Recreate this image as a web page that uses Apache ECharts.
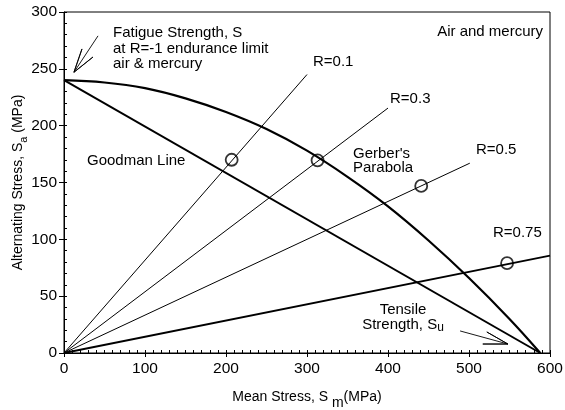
<!DOCTYPE html>
<html><head><meta charset="utf-8">
<script src="https://cdn.jsdelivr.net/npm/echarts@6/dist/echarts.min.js"></script>
<style>html,body{margin:0;padding:0;background:#fff}#c{width:565px;height:410px}</style>
</head><body><div id="c"></div>
<script>
// ---- data ----
const goodman = [[0, 240], [588, 0]];
const gerber = [[0,240],[50,238],[100,233],[150,224],[200,212],[250,197],[300,178],[350,155],[400,129],[450,99],[500,66],[550,30],[588,0]];
const rLine01 = [[0,0],[300,245]];
const rLine03 = [[0,0],[400,215.5]];
const rLine05 = [[0,0],[501,167]];
const rLine075 = [[0,0],[600,85.7]];
const points = [[207,170],[313,169.5],[441,147],[547,79]];
const fatigueArrow = [[42,279],[12.3,247],[22.2,267.5],[12.3,247],[35.8,260.4],[12.3,247]];
const tensileArrow = [[489,19.4],[548,7.9],[522,18.5],[548,7.9],[517,7.9],[548,7.9]];
const labels = [
  {t:'Fatigue Strength, S\nat R=-1 endurance limit\nair & mercury', p:[60.5,267.7], a:'left', lh:15.5},
  {t:'Air and mercury', p:[591.4,282.4], a:'right'},
  {t:'R=0.1', p:[307.4,256], a:'left'},
  {t:'R=0.3', p:[402.5,223.5], a:'left'},
  {t:'R=0.5', p:[508.6,178.6], a:'left'},
  {t:'R=0.75', p:[529.6,105.6], a:'left'},
  {t:'Goodman Line', p:[28.4,169], a:'left'},
  {t:"Gerber's\nParabola", p:[356.8,169], a:'left', lh:14},
  {t:'Tensile\n{n|Strength, S}{sub|u}', p:[418.5,31.2], a:'center', lh:15}
];
const xMin = 0, xMax = 600, xStep = 100;
const yMin = 0, yMax = 300, yStep = 50;

const FONT = "'Liberation Sans', Arial, Helvetica, sans-serif";
const chart = echarts.init(document.getElementById('c'), null, {renderer:'canvas'});
const black = '#000';
function line(data, w) {
  return {type:'line', data, symbol:'none', silent:true, animation:false,
    lineStyle:{color:black, width:w}, z:3};
}
const option = {
  animation:false,
  backgroundColor:'#fff',
  grid:{left:64, right:15, top:12, bottom:57, containLabel:false, outerBoundsMode:'none',
    show:true, borderColor:black, borderWidth:1, backgroundColor:'transparent'},
  xAxis:[{
    type:'value', min:xMin, max:xMax, interval:xStep,
    axisLine:{show:true, onZero:false, lineStyle:{color:black, width:1}},
    axisTick:{show:true, length:4, lineStyle:{color:black}},
    axisLabel:{color:black, fontSize:15.5, fontFamily:FONT, margin:8},
    splitLine:{show:false},
    name:'{n|Mean Stress, S }{sub|m}{n|(MPa)}', nameLocation:'middle', nameGap:37, nameMoveOverlap:false,
    nameTextStyle:{rich:{n:{fontSize:14, fontFamily:FONT, color:black, verticalAlign:'top', lineHeight:20}, sub:{fontSize:14, fontFamily:FONT, color:black, padding:[6,0,0,0], lineHeight:20}}}
  },{
    type:'value', min:xMin, max:xMax, interval:10, position:'bottom',
    axisLine:{show:false}, axisLabel:{show:false}, splitLine:{show:false},
    axisTick:{show:true, inside:true, length:3, lineStyle:{color:black}}
  }],
  yAxis:[{
    type:'value', min:yMin, max:yMax, interval:yStep,
    axisLine:{show:true, onZero:false, lineStyle:{color:black, width:1}},
    axisTick:{show:true, length:5, lineStyle:{color:black}},
    axisLabel:{color:black, fontSize:15.5, fontFamily:FONT, margin:7},
    splitLine:{show:false},
    name:'{n|Alternating Stress, S}{sub|a}{n| (MPa)}', nameLocation:'middle', nameGap:33, nameRotate:90, nameMoveOverlap:false,
    nameTextStyle:{rich:{n:{fontSize:14, fontFamily:FONT, color:black, verticalAlign:'top', lineHeight:20}, sub:{fontSize:11, fontFamily:FONT, color:black, padding:[6,0,0,0], lineHeight:20}}}
  },{
    type:'value', min:yMin, max:yMax, interval:10, position:'left',
    axisLine:{show:false}, axisLabel:{show:false}, splitLine:{show:false},
    axisTick:{show:true, inside:true, length:3, lineStyle:{color:black}}
  }],
  series:[
    line(goodman, 2),
    {...line(gerber, 2.2), smooth:0.4},
    line(rLine01, 1),
    line(rLine03, 1),
    line(rLine05, 1),
    line(rLine075, 1.8),
    line(fatigueArrow, 0.9),
    line(tensileArrow, 0.9),
    {type:'scatter', data:points, symbol:'circle', symbolSize:12, silent:true, z:5,
      itemStyle:{color:'transparent', borderColor:black, borderWidth:1.8}}
  ]
};
chart.setOption(option);

const graphics = labels.map(l => {
  const px = chart.convertToPixel({gridIndex:0}, l.p);
  return {type:'text', x:px[0], y:px[1], z:10, silent:true,
    style:{text:l.t, fill:black, font:'15px ' + FONT, align:l.a, verticalAlign:'middle',
      lineHeight:l.lh || 18,
      rich:{n:{fontSize:15, fontFamily:FONT, fill:black, verticalAlign:'top', lineHeight:15},
            sub:{fontSize:12, fontFamily:FONT, fill:black, padding:[5,0,0,0], lineHeight:15}}}};
});
chart.setOption({graphic:graphics});
</script>
</body></html>
